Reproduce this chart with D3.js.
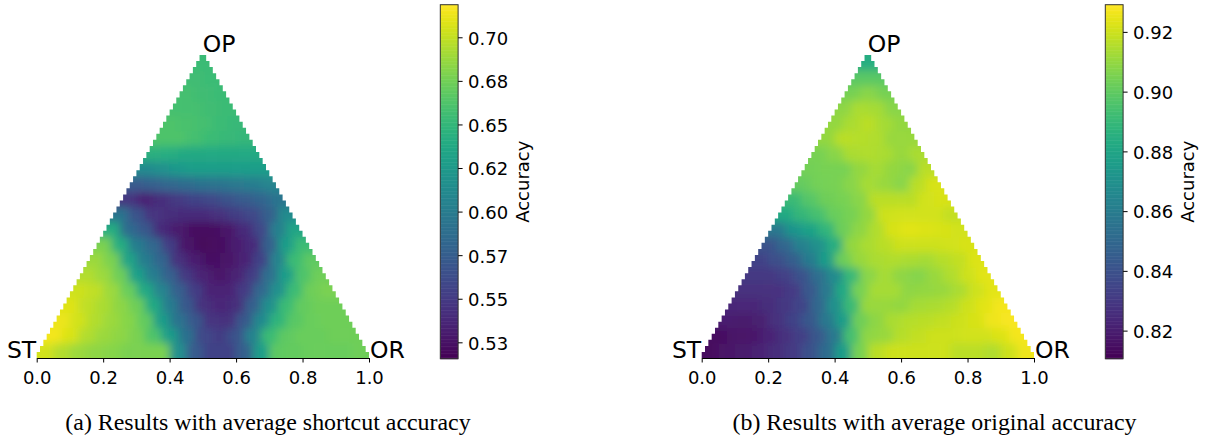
<!DOCTYPE html>
<html>
<head>
<meta charset="utf-8">
<script src="https://cdn.jsdelivr.net/npm/d3@7"></script>
<style>
    html, body { margin: 0; padding: 0; background: #fff; }
    svg { display: block; }
    text { font-family: "DejaVu Sans", sans-serif; fill: #000; }
    .caption { font-family: "Liberation Serif", serif; font-size: 23.9px; }
</style>
</head>
<body>
<script>
'use strict';

const WIDTH = 1207;
const HEIGHT = 439;

const AXIS_TICKS = [0, 0.2, 0.4, 0.6, 0.8, 1];

// Row 0 sits on the base of the triangle, each row up has one cell less.
const SHORTCUT_ACCURACY = [
    [.705, .695, .688, .684, .682, .678, .678, .678, .617, .573, .556, .556, .577, .628, .668, .670, .672, .672, .672, .674],
    [.715, .707, .695, .688, .684, .678, .662, .628, .591, .560, .552, .567, .607, .654, .668, .672, .672, .674, .674],
    [.713, .705, .695, .688, .682, .670, .628, .593, .571, .546, .544, .571, .611, .648, .666, .672, .674, .674],
    [.709, .699, .693, .684, .674, .638, .601, .571, .544, .538, .542, .577, .617, .654, .670, .674, .674],
    [.703, .699, .688, .672, .638, .607, .577, .552, .536, .536, .550, .583, .617, .654, .674, .678],
    [.695, .688, .674, .630, .601, .577, .548, .534, .528, .534, .552, .589, .628, .662, .674],
    [.688, .678, .634, .601, .581, .544, .532, .524, .526, .536, .556, .607, .654, .668],
    [.678, .642, .601, .583, .552, .528, .520, .522, .532, .540, .577, .628, .654],
    [.642, .587, .571, .540, .530, .522, .522, .528, .540, .560, .603, .634],
    [.593, .567, .546, .542, .540, .540, .544, .552, .560, .577, .613],
    [.546, .536, .542, .550, .556, .560, .567, .573, .581, .593],
    [.573, .577, .583, .587, .591, .593, .597, .601, .607],
    [.611, .617, .624, .628, .628, .628, .628, .628],
    [.644, .642, .638, .638, .638, .638, .638],
    [.662, .662, .658, .654, .652, .650],
    [.662, .660, .658, .654, .652],
    [.658, .658, .656, .654],
    [.658, .656, .654],
    [.656, .654],
    [.654]
];

const ORIGINAL_ACCURACY = [
    [.814, .817, .819, .822, .826, .831, .840, .852, .876, .905, .917, .920, .920, .920, .920, .917, .917, .915, .920, .926],
    [.815, .817, .818, .822, .827, .833, .843, .858, .894, .909, .911, .916, .918, .920, .920, .921, .921, .923, .927],
    [.820, .819, .821, .827, .834, .843, .858, .876, .903, .909, .914, .916, .917, .918, .920, .922, .926, .928],
    [.824, .824, .826, .830, .835, .850, .870, .891, .911, .911, .910, .913, .914, .916, .920, .924, .927],
    [.827, .827, .828, .831, .843, .858, .882, .905, .913, .913, .909, .910, .911, .914, .920, .924],
    [.830, .830, .833, .840, .853, .867, .890, .908, .913, .909, .907, .911, .915, .920, .924],
    [.834, .839, .846, .860, .876, .903, .911, .914, .915, .914, .913, .916, .918, .923],
    [.841, .850, .862, .870, .884, .910, .914, .917, .920, .920, .920, .921, .922],
    [.858, .872, .879, .888, .903, .909, .915, .922, .924, .923, .922, .921],
    [.882, .889, .894, .902, .905, .910, .920, .921, .921, .921, .918],
    [.891, .898, .903, .905, .908, .917, .917, .917, .921, .922],
    [.901, .904, .905, .908, .913, .911, .908, .917, .922],
    [.904, .905, .905, .910, .913, .910, .908, .917],
    [.905, .908, .914, .915, .914, .911, .914],
    [.910, .917, .916, .915, .911, .911],
    [.910, .914, .917, .913, .910],
    [.909, .914, .913, .908],
    [.905, .908, .905],
    [.899, .899],
    [.884]
];

const SHORTCUT_DOMAIN = [0.5156, 0.7187];
const ORIGINAL_DOMAIN = [0.8106, 0.9291];

const SHORTCUT_TICKS = [0.525, 0.55, 0.575, 0.6, 0.625, 0.65, 0.675, 0.7];
const SHORTCUT_TICK_LABELS = ['0.53', '0.55', '0.57', '0.60', '0.62', '0.65', '0.68', '0.70'];
const ORIGINAL_TICKS = [0.82, 0.84, 0.86, 0.88, 0.9, 0.92];
const ORIGINAL_TICK_LABELS = ['0.82', '0.84', '0.86', '0.88', '0.90', '0.92'];

const BASE_Y = 358;
const APEX_Y = 55;
const BAR_TOP = 4.7;
const BAR_BOTTOM = 358.7;
const BAR_WIDTH = 17.8;
const TICK_FONT = 18;
const CORNER_FONT = 23.5;
const PAD = 30;   // cells are drawn past the triangle so the blur does not fade at its edge

function drawPanel(svg, panel) {
    const x = d3.scaleLinear().domain([0, 1]).range([panel.left, panel.left + 332.3]);
    const y = d3.scaleLinear().domain([0, 1]).range([BASE_Y, APEX_Y]);
    const color = d3.scaleSequential(d3.interpolateViridis).domain(panel.domain);
    const rowCount = panel.rows.length;
    const cellWidth = x(1 / rowCount) - x(0);
    const cellHeight = y(0) - y(1 / rowCount);

    // Stair edge of the triangle, 100 cells across.
    let outline = [[x(0), y(0)]];
    for (let k = 0; k < 50; k++) {
        outline.push([x(k * 0.01), y((k + 1) * 0.02)]);
        outline.push([x((k + 1) * 0.01), y((k + 1) * 0.02)]);
    }
    for (let k = 49; k >= 0; k--) {
        outline.push([x(1 - (k + 1) * 0.01), y((k + 1) * 0.02)]);
        outline.push([x(1 - k * 0.01), y((k + 1) * 0.02)]);
        outline.push([x(1 - k * 0.01), y(k * 0.02)]);
    }

    const defs = svg.append('defs');
    defs.append('clipPath')
            .attr('id', `clip-${panel.id}`)
            .append('path')
            .attr('d', d3.line()(outline) + 'Z');
    defs.append('filter')
            .attr('id', `soften-${panel.id}`)
            .attr('filterUnits', 'userSpaceOnUse')
            .attr('x', panel.left - 60).attr('y', 0)
            .attr('width', 460).attr('height', HEIGHT)
            .append('feGaussianBlur')
            .attr('stdDeviation', 4.5);

    const cells = [];
    panel.rows.forEach(function(row, i) {
        row.forEach(function(value, k) {
            cells.push({row: i, col: k, last: row.length - 1, value: value});
        });
    });

    svg.append('g')
            .attr('clip-path', `url(#clip-${panel.id})`)
            .append('g')
            .attr('filter', `url(#soften-${panel.id})`)
            .selectAll('rect')
            .data(cells)
            .enter()
            .append('rect')
            .attr('x', function(d) {
                let left = x(d.row * 0.5 / rowCount + d.col / rowCount);
                return d.col === 0 ? left - PAD : left;
            })
            .attr('width', function(d) {
                let extra = (d.col === 0 ? PAD : 0) + (d.col === d.last ? PAD : 0);
                return cellWidth + extra + 0.5;
            })
            .attr('y', function(d) {
                let top = y((d.row + 1) / rowCount);
                return d.row === rowCount - 1 ? top - PAD : top;
            })
            .attr('height', function(d) {
                let extra = (d.row === 0 || d.row === rowCount - 1) ? PAD : 0;
                return cellHeight + extra + 0.5;
            })
            .attr('fill', function(d) {
                return color(d.value);
            });

    // Bottom axis, only the base line of the triangle.
    const axis = svg.append('g')
            .attr('transform', `translate(0, ${BASE_Y})`)
            .call(d3.axisBottom(x)
                    .tickValues(AXIS_TICKS)
                    .tickFormat(d3.format('.1f'))
                    .tickSize(4.5)
                    .tickSizeOuter(0)
                    .tickPadding(8.5));
    axis.selectAll('text').style('font-size', `${TICK_FONT}px`).attr('font-family', null);
    axis.attr('font-family', null).attr('font-size', null);
    axis.selectAll('line, path').attr('stroke', '#000').attr('stroke-width', 1);

    // Corner names.
    svg.append('text')
            .attr('x', x(0.5))
            .attr('y', 52)
            .style('font-size', `${CORNER_FONT}px`)
            .text('OP');
    svg.append('text')
            .attr('x', x(0) - 0.5)
            .attr('y', BASE_Y)
            .attr('text-anchor', 'end')
            .style('font-size', `${CORNER_FONT}px`)
            .text('ST');
    svg.append('text')
            .attr('x', x(1) + 1)
            .attr('y', BASE_Y)
            .style('font-size', `${CORNER_FONT}px`)
            .text('OR');

    svg.append('text')
            .attr('class', 'caption')
            .attr('x', panel.captionX)
            .attr('y', 430)
            .attr('text-anchor', 'middle')
            .text(panel.caption);

    // Colorbar, 256 levels like the original.
    const barScale = d3.scaleLinear().domain(panel.domain).range([BAR_BOTTOM, BAR_TOP]);
    const levels = d3.range(256);
    const levelHeight = (BAR_BOTTOM - BAR_TOP) / 256;
    svg.append('g')
            .selectAll('rect')
            .data(levels)
            .enter()
            .append('rect')
            .attr('x', panel.barLeft)
            .attr('width', BAR_WIDTH)
            .attr('y', function(d) {
                return BAR_BOTTOM - (d + 1) * levelHeight;
            })
            .attr('height', levelHeight + 0.5)
            .attr('fill', function(d) {
                return d3.interpolateViridis(d / 255);
            });
    svg.append('rect')
            .attr('x', panel.barLeft)
            .attr('y', BAR_TOP)
            .attr('width', BAR_WIDTH)
            .attr('height', BAR_BOTTOM - BAR_TOP)
            .attr('fill', 'none')
            .attr('stroke', '#333')
            .attr('stroke-width', 1);

    const barAxis = svg.append('g')
            .attr('transform', `translate(${panel.barLeft + BAR_WIDTH}, 0)`)
            .call(d3.axisRight(barScale)
                    .tickValues(panel.ticks)
                    .tickFormat(function(d, i) {
                        return panel.tickLabels[i];
                    })
                    .tickSize(4.5)
                    .tickPadding(5.5));
    barAxis.select('.domain').remove();
    barAxis.attr('font-family', null).attr('font-size', null);
    barAxis.selectAll('text').style('font-size', `${TICK_FONT}px`).attr('dy', '0.38em');
    barAxis.selectAll('line').attr('stroke', '#000').attr('stroke-width', 1);

    svg.append('text')
            .attr('transform', `translate(${panel.barLeft + panel.labelOffset}, 181.7) rotate(-90)`)
            .attr('text-anchor', 'middle')
            .attr('dy', '0.36em')
            .style('font-size', `${TICK_FONT}px`)
            .text('Accuracy');
}

function main() {
    let svg = d3.select('body')
            .append('svg')
            .attr('width', WIDTH)
            .attr('height', HEIGHT);

    drawPanel(svg, {
        id: 'a',
        left: 36.7,
        rows: SHORTCUT_ACCURACY,
        domain: SHORTCUT_DOMAIN,
        ticks: SHORTCUT_TICKS,
        tickLabels: SHORTCUT_TICK_LABELS,
        barLeft: 440.3,
        labelOffset: 82.5,
        captionX: 268,
        caption: '(a) Results with average shortcut accuracy'
    });
    drawPanel(svg, {
        id: 'b',
        left: 701.7,
        rows: ORIGINAL_ACCURACY,
        domain: ORIGINAL_DOMAIN,
        ticks: ORIGINAL_TICKS,
        tickLabels: ORIGINAL_TICK_LABELS,
        barLeft: 1105.3,
        labelOffset: 82.5,
        captionX: 934.5,
        caption: '(b) Results with average original accuracy'
    });
}

document.addEventListener('DOMContentLoaded', function(event) {
    main();
});
</script>
</body>
</html>
